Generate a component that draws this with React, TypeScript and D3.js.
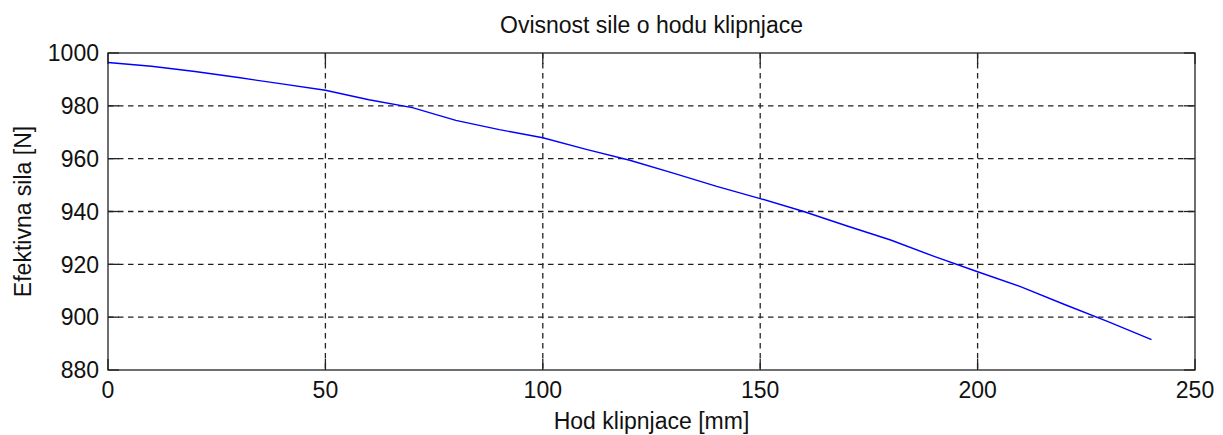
import React from "react";
import * as d3 from "d3";

const xValues = [0, 10, 20, 30, 40, 50, 60, 70, 80, 90, 100, 110, 120, 130, 140, 150, 160, 170, 180, 190, 200, 210, 220, 230, 240];
const forceValues = [996.4, 995.0, 993.0, 990.7, 988.3, 985.9, 982.3, 979.3, 974.5, 971.0, 967.9, 963.5, 959.4, 954.5, 949.5, 944.9, 940.0, 934.5, 929.2, 923.0, 917.2, 911.5, 904.8, 898.3, 891.5];
const xTicks = [0, 50, 100, 150, 200, 250];
const yTicks = [880, 900, 920, 940, 960, 980, 1000];
const title = "Ovisnost sile o hodu klipnjace";
const xLabel = "Hod klipnjace [mm]";
const yLabel = "Efektivna sila [N]";

export default function App() {
  const W = 1223, H = 435;
  const left = 108, right = 1195, top = 53, bottom = 370;
  const x = d3.scaleLinear().domain([0, 250]).range([left, right]);
  const y = d3.scaleLinear().domain([880, 1000]).range([bottom, top]);
  const line = d3.line<number>().x((_, i) => x(xValues[i])).y((d) => y(d));
  const font = "'Liberation Sans', Arial, sans-serif";
  const fs = 23;
  const tickLen = 11;
  const axisColor = "#222";
  const dash = "5.5,4.5";
  return (
    <svg width={W} height={H} style={{ position: "absolute", left: 0, top: 0, background: "#fff" }}>
      <rect x={0} y={0} width={W} height={H} fill="#fff" />
      {/* grid */}
      {xTicks.slice(1, -1).map((t) => (
        <line key={"gx" + t} x1={x(t)} x2={x(t)} y1={top} y2={bottom} stroke={axisColor} strokeWidth={1.3} strokeDasharray={dash} />
      ))}
      {yTicks.slice(1, -1).map((t) => (
        <line key={"gy" + t} x1={left} x2={right} y1={y(t)} y2={y(t)} stroke={axisColor} strokeWidth={1.3} strokeDasharray={dash} />
      ))}
      {/* ticks */}
      {xTicks.map((t) => (
        <g key={"tx" + t}>
          <line x1={x(t)} x2={x(t)} y1={bottom} y2={bottom - tickLen} stroke={axisColor} strokeWidth={1.3} />
          <line x1={x(t)} x2={x(t)} y1={top} y2={top + tickLen} stroke={axisColor} strokeWidth={1.3} />
          <text x={x(t)} y={398} textAnchor="middle" fontFamily={font} fontSize={fs} fill="#111">{t}</text>
        </g>
      ))}
      {yTicks.map((t) => (
        <g key={"ty" + t}>
          <line x1={left} x2={left + tickLen} y1={y(t)} y2={y(t)} stroke={axisColor} strokeWidth={1.3} />
          <line x1={right} x2={right - tickLen} y1={y(t)} y2={y(t)} stroke={axisColor} strokeWidth={1.3} />
          <text x={99} y={y(t) + 8.3} textAnchor="end" fontFamily={font} fontSize={fs} fill="#111">{t}</text>
        </g>
      ))}
      {/* data */}
      <path d={line(forceValues) || ""} fill="none" stroke="#0000ff" strokeWidth={1.4} />
      {/* box */}
      <rect x={left} y={top} width={right - left} height={bottom - top} fill="none" stroke={axisColor} strokeWidth={1.3} />
      {/* labels */}
      <text x={(left + right) / 2} y={33} textAnchor="middle" fontFamily={font} fontSize={fs} fill="#111">{title}</text>
      <text x={(left + right) / 2} y={429} textAnchor="middle" fontFamily={font} fontSize={fs} fill="#111">{xLabel}</text>
      <text transform={`translate(31,${(top + bottom) / 2}) rotate(-90)`} textAnchor="middle" fontFamily={font} fontSize={fs} fill="#111">{yLabel}</text>
    </svg>
  );
}
